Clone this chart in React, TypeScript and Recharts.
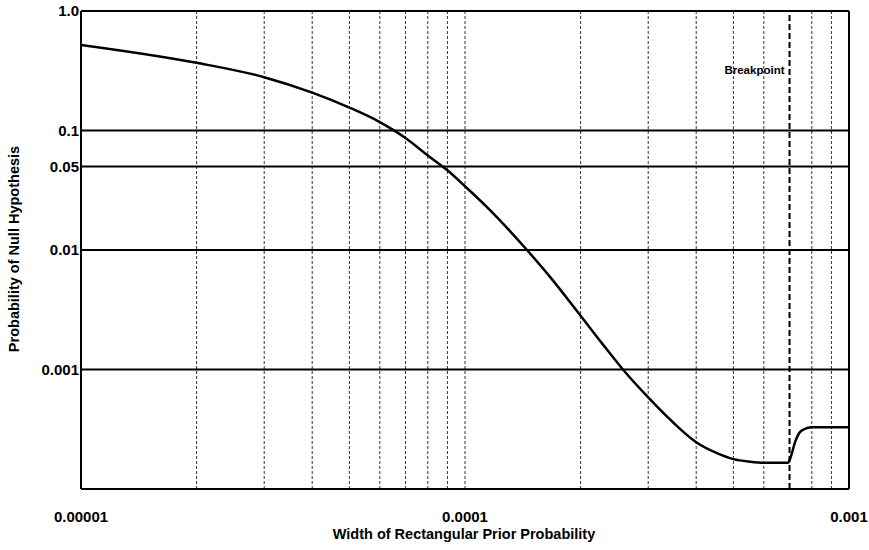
import React from 'react';
import { LineChart, Line, XAxis, YAxis, ReferenceLine } from 'recharts';

const widthValues = [
  1e-5, 2e-5, 3e-5, 4e-5, 5e-5, 6e-5, 7e-5, 8e-5, 9e-5, 1e-4,
  1.1618e-4, 1.3095e-4, 1.4503e-4, 1.665e-4, 2e-4, 2.288e-4, 2.578e-4, 3e-4,
  3.48e-4, 4e-4, 4.532e-4, 5e-4, 5.524e-4, 6e-4, 6.937e-4, 7.063e-4, 7.235e-4,
  7.411e-4, 7.636e-4, 8e-4, 1e-3,
];
const nullProbValues = [
  0.5207, 0.3687, 0.2792, 0.2073, 0.1555, 0.1177, 0.0866, 0.06189, 0.04642, 0.03415,
  0.02154, 0.0144, 0.01, 0.005957, 0.002818, 0.001615, 0.001, 0.000584,
  0.0003617, 0.0002464, 0.0001995, 0.0001778, 0.0001694, 0.0001662, 0.0001662, 0.0001884, 0.0002464,
  0.0002929, 0.0003162, 0.0003286, 0.0003286,
];

const xTickValues = [1e-5, 1e-4, 1e-3];
const xTickLabels = ['0.00001', '0.0001', '0.001'];
const yTickValues = [1, 0.1, 0.05, 0.01, 0.001];
const yTickLabels = ['1.0', '0.1', '0.05', '0.01', '0.001'];
const yGridValues = [0.1, 0.05, 0.01, 0.001];
const xGridValues = [
  2e-5, 3e-5, 4e-5, 5e-5, 6e-5, 7e-5, 8e-5, 9e-5, 1e-4,
  2e-4, 3e-4, 4e-4, 5e-4, 6e-4, 8e-4, 9e-4,
];
const breakpointValue = 7e-4;
const breakpointLabel = 'Breakpoint';
const xTitle = 'Width of Rectangular Prior Probability';
const yTitle = 'Probability of Null Hypothesis';

const data = widthValues.map((x, i) => ({ x, y: nullProbValues[i] }));

const FONT = '"Liberation Sans", Arial, Helvetica, sans-serif';

const fmtX = (v: number) => {
  const i = xTickValues.findIndex((t) => Math.abs(t - v) / t < 1e-6);
  return i >= 0 ? xTickLabels[i] : '';
};
const fmtY = (v: number) => {
  const i = yTickValues.findIndex((t) => Math.abs(t - v) / t < 1e-6);
  return i >= 0 ? yTickLabels[i] : '';
};

const tickStyle = { fontFamily: FONT, fontWeight: 700, fontSize: 15, fill: '#000' };

export default function App() {
  return (
    <div style={{ position: 'absolute', left: 0, top: 0, width: 869, height: 550, background: '#fff' }}>
      <LineChart width={869} height={550} data={data} margin={{ top: 11, right: 20, bottom: 0, left: 0 }}>
        <XAxis
          dataKey="x"
          type="number"
          scale="log"
          domain={[1e-5, 1e-3]}
          ticks={xTickValues}
          tickFormatter={fmtX}
          interval={0}
          height={61}
          tickSize={0}
          tickMargin={22}
          tickLine={false}
          axisLine={{ stroke: '#000', strokeWidth: 2 }}
          tick={tickStyle}
          allowDataOverflow
          label={(props: any) => (
            <text
              x={464}
              y={539}
              textAnchor="middle"
              style={{ fontFamily: FONT, fontWeight: 700, fontSize: 14.5, fill: '#000' }}
            >
              {xTitle}
            </text>
          )}
        />
        <YAxis
          dataKey="y"
          type="number"
          scale="log"
          domain={[1e-4, 1]}
          ticks={yTickValues}
          tickFormatter={fmtY}
          interval={0}
          width={81}
          tickSize={0}
          tickMargin={2}
          tickLine={false}
          axisLine={{ stroke: '#000', strokeWidth: 2 }}
          tick={tickStyle}
          allowDataOverflow
          label={(props: any) => (
            <text
              x={14}
              y={249}
              transform="rotate(-90, 14, 249)"
              textAnchor="middle"
              dominantBaseline="central"
              style={{ fontFamily: FONT, fontWeight: 700, fontSize: 14.5, fill: '#000' }}
            >
              {yTitle}
            </text>
          )}
        />
        {xGridValues.map((v) => (
          <ReferenceLine key={'vx' + v} x={v} stroke="#333" strokeWidth={1} strokeDasharray="3 2" />
        ))}
        {yGridValues.map((v) => (
          <ReferenceLine key={'hy' + v} y={v} stroke="#000" strokeWidth={2} />
        ))}
        <ReferenceLine y={1} stroke="#000" strokeWidth={2} />
        <ReferenceLine x={1e-3} stroke="#000" strokeWidth={2} />
        <ReferenceLine
          x={breakpointValue}
          stroke="#000"
          strokeWidth={2}
          strokeDasharray="6 3"
          label={(props: any) => (
            <text
              x={(props.viewBox?.x ?? 790) - 5}
              y={74}
              textAnchor="end"
              style={{ fontFamily: FONT, fontWeight: 700, fontSize: 11.5, fill: '#000' }}
            >
              {breakpointLabel}
            </text>
          )}
        />
        <Line
          dataKey="y"
          type="monotone"
          stroke="#000"
          strokeWidth={2.5}
          dot={false}
          isAnimationActive={false}
        />
      </LineChart>
    </div>
  );
}
